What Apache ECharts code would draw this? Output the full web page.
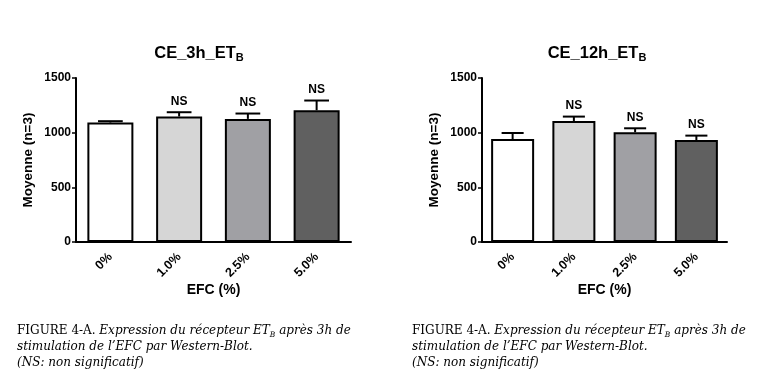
<!DOCTYPE html>
<html><head><meta charset="utf-8">
<script src="https://cdn.jsdelivr.net/npm/echarts@6/dist/echarts.min.js"></script>
<style>html,body{margin:0;padding:0;background:#fff}#c{width:761px;height:378px}</style>
</head><body><div id="c"></div>
<script>
const categories = ['0%', '1.0%', '2.5%', '5.0%'];
const mean3h = [1093, 1148, 1126, 1205];
const err3h = [12, 39, 49, 89];
const ns3h = ['', 'NS', 'NS', 'NS'];
const mean12h = [942, 1107, 1004, 933];
const err12h = [55, 40, 36, 40];
const ns12h = ['', 'NS', 'NS', 'NS'];
const barColors = ['#ffffff', '#d6d6d6', '#a0a0a4', '#606060'];
const yTicks = [0, 500, 1000, 1500];

const chart = echarts.init(document.getElementById('c'), null, {renderer: 'canvas'});
const boldFont = 'Arial, "Liberation Sans", sans-serif';
const serif = '"DejaVu Serif", "Liberation Serif", serif';

function errSeries(idx, means, errs, labels) {
  return {
    type: 'custom', xAxisIndex: idx, yAxisIndex: idx, z: 5,
    data: means.map((m, i) => [i, m, m + errs[i]]),
    renderItem: function (params, api) {
      const x = api.value(0);
      const pTop = api.coord([x, api.value(1)]);
      const pHi = api.coord([x, api.value(2)]);
      const half = api.size([1, 0])[0] * 0.18;
      const st = {stroke: '#000', lineWidth: 2};
      const ch = [
        {type: 'line', shape: {x1: pTop[0], y1: pTop[1], x2: pHi[0], y2: pHi[1]}, style: st},
        {type: 'line', shape: {x1: pHi[0] - half, y1: pHi[1], x2: pHi[0] + half, y2: pHi[1]}, style: st}
      ];
      const lab = labels[params.dataIndex];
      if (lab) {
        ch.push({type: 'text', style: {text: lab, x: pHi[0], y: pHi[1] - 5, align: 'center', verticalAlign: 'bottom',
          font: 'bold 12px ' + boldFont, fill: '#000'}});
      }
      return {type: 'group', children: ch};
    }
  };
}

function axisPair(idx) {
  return {
    x: {
      type: 'category', gridIndex: idx, data: categories,
      axisLine: {lineStyle: {color: '#000', width: 2}},
      axisTick: {alignWithLabel: true, length: 4, lineStyle: {color: '#000', width: 1.5}},
      axisLabel: {rotate: 45, color: '#000', fontWeight: 'bold', fontSize: 12.5, fontFamily: boldFont, margin: 13},
      name: 'EFC (%)', nameLocation: 'middle', nameGap: 40,
      nameTextStyle: {color: '#000', fontWeight: 'bold', fontSize: 14, fontFamily: boldFont}
    },
    y: {
      type: 'value', gridIndex: idx, min: 0, max: 1500, interval: 500,
      axisLine: {show: true, lineStyle: {color: '#000', width: 2}},
      axisTick: {show: true, length: 4, lineStyle: {color: '#000', width: 1.5}},
      splitLine: {show: false},
      axisLabel: {color: '#000', fontWeight: 'bold', fontSize: 12, fontFamily: boldFont, margin: 5,
        formatter: v => String(v)},
      name: 'Moyenne (n=3)', nameLocation: 'middle', nameGap: 41,
      nameTextStyle: {color: '#000', fontWeight: 'bold', fontSize: 13.5, fontFamily: boldFont}
    }
  };
}
const a0 = axisPair(0), a1 = axisPair(1);

function barSeries(idx, means, width) {
  return {
    type: 'bar', xAxisIndex: idx, yAxisIndex: idx, barWidth: width,
    data: means.map((v, i) => ({value: v, itemStyle: {color: barColors[i]}})),
    itemStyle: {borderColor: '#000', borderWidth: 2}
  };
}

function titleRich(txt) {
  return {
    text: '{a|' + txt + '}{b|B}',
    textStyle: {rich: {
      a: {fontSize: 16.5, fontWeight: 'bold', fontFamily: boldFont, color: '#000', lineHeight: 20},
      b: {fontSize: 11, fontWeight: 'bold', fontFamily: boldFont, color: '#000', lineHeight: 10, verticalAlign: 'bottom'}
    }}
  };
}

const capRich = {
  r: {fontFamily: serif, fontSize: 12, color: '#111', lineHeight: 16},
  i: {fontFamily: serif, fontSize: 12, fontStyle: 'italic', color: '#111', lineHeight: 16},
  s: {fontFamily: serif, fontSize: 7.5, fontStyle: 'italic', color: '#111', lineHeight: 12, verticalAlign: 'bottom'}
};
const capText = '{r|FIGURE 4-A. }{i|Expression du récepteur ET}{s|B}{i| après 3h de}\n{i|stimulation de l\u2019EFC par Western-Blot.}\n{i|(NS: non significatif)}';

chart.setOption({
  animation: false,
  backgroundColor: '#fff',
  title: [
    Object.assign({left: 194, top: 38, textAlign: 'center'}, titleRich('CE_3h_ET')),
    Object.assign({left: 592, top: 38, textAlign: 'center'}, titleRich('CE_12h_ET'))
  ],
  grid: [
    {left: 76, right: 410, top: 78, bottom: 136},
    {left: 482, right: 34, top: 78, bottom: 136}
  ],
  xAxis: [a0.x, a1.x],
  yAxis: [a0.y, a1.y],
  series: [
    barSeries(0, mean3h, 46),
    errSeries(0, mean3h, err3h, ns3h),
    barSeries(1, mean12h, 43),
    errSeries(1, mean12h, err12h, ns12h)
  ],
  graphic: [
    {type: 'text', left: 17, top: 325, style: {text: capText, rich: capRich}},
    {type: 'text', left: 412, top: 325, style: {text: capText, rich: capRich}}
  ]
});
</script></body></html>
